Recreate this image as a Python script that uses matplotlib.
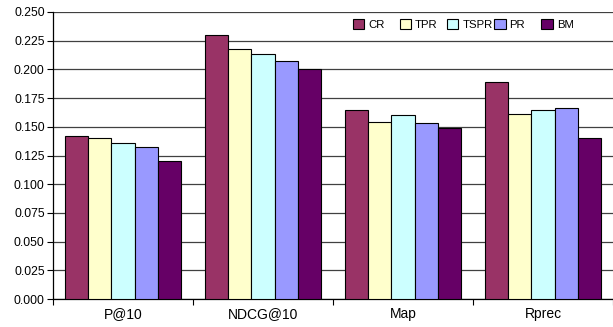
import numpy as np
import matplotlib
matplotlib.use('Agg')
import matplotlib.pyplot as plt
from matplotlib.legend import Legend

plt.rcParams['font.family'] = ['Liberation Sans', 'DejaVu Sans']

metrics = ['P@10', 'NDCG@10', 'Map', 'Rprec']
methods = ['CR', 'TPR', 'TSPR', 'PR', 'BM']
cr = [0.142, 0.230, 0.165, 0.189]
tpr = [0.140, 0.218, 0.154, 0.161]
tspr = [0.136, 0.213, 0.160, 0.165]
pr = [0.132, 0.207, 0.153, 0.166]
bm = [0.120, 0.200, 0.149, 0.140]
colors = ['#993366', '#FFFFCC', '#CCFFFF', '#9999FF', '#660066']

series = [cr, tpr, tspr, pr, bm]

fig = plt.figure(figsize=(6.13, 3.27), dpi=100)
ax = fig.add_axes([53 / 613, 28 / 327, 560 / 613, 287 / 327])

x = np.arange(len(metrics))
w = 1 / 6
bars = []
for j, (vals, name, c) in enumerate(zip(series, methods, colors)):
    b = ax.bar(x + (j - 2) * w, vals, width=w, color=c, edgecolor='black',
               linewidth=0.8, label=name, zorder=3)
    bars.append(b)

ax.set_xlim(-0.5, 3.5)
ax.set_ylim(0, 0.25)
yt = np.arange(0, 0.2501, 0.025)
ax.set_yticks(yt)
ax.set_yticklabels(['%.3f' % v for v in yt], fontsize=8.7)
ax.yaxis.grid(True, color='#404040', linewidth=0.9, zorder=0)
ax.set_axisbelow(True)

# category labels centred, tick marks between categories
ax.set_xticks(x)
ax.set_xticklabels(metrics, fontsize=10)
ax.tick_params(axis='x', length=0, pad=6)
ax.set_xticks(np.arange(-0.5, 3.6, 1), minor=True)
ax.tick_params(axis='x', which='minor', length=4, width=0.8, direction='out')
ax.tick_params(axis='y', length=4, width=0.8, direction='out', pad=2)

for s in ['top', 'right']:
    ax.spines[s].set_visible(False)
for s in ['left', 'bottom']:
    ax.spines[s].set_linewidth(0.9)

# legend entries on an even spacing, one small legend per series
for j, (b, name) in enumerate(zip(bars, methods)):
    leg = Legend(ax, [b], [name], loc='center left',
                 bbox_to_anchor=(0.535 + j * 0.0843, 0.958),
                 frameon=False, fontsize=8.2, handlelength=1.0, handleheight=1.0,
                 handletextpad=0.35, borderpad=0, borderaxespad=0)
    ax.add_artist(leg)

fig.savefig('out.png', dpi=100)
